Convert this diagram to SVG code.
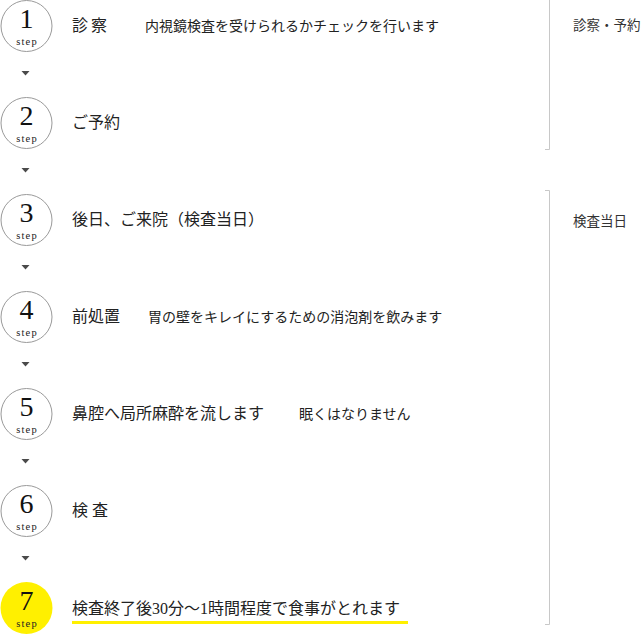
<svg xmlns="http://www.w3.org/2000/svg" width="641" height="636" viewBox="0 0 641 636">
<style>
.c{fill:#fff;stroke:#9a9a9a;stroke-width:1}
.cy{fill:#fff000;stroke:none}
.num{font-family:"Liberation Serif",serif;font-size:28px;fill:#111;text-anchor:middle}
.st{font-family:"Liberation Serif",serif;font-size:10.5px;fill:#222;text-anchor:middle;letter-spacing:1.2px}
.m{font-family:"Liberation Serif","Noto Sans CJK JP",serif;font-size:16px;fill:#222}
.s{font-family:"Liberation Serif","Noto Sans CJK JP",serif;font-size:14px;fill:#222}
.r{font-family:"Liberation Serif","Noto Sans CJK JP",serif;font-size:13.5px;fill:#333}
.tri{fill:#4a4a4a}
.br{fill:none;stroke:#c8c8c8;stroke-width:1}
</style>
<rect width="641" height="636" fill="#fff"/>
<g id="connectors">
<polygon class="tri" points="21.5,71 29.5,71 25.5,75.5"/>
<polygon class="tri" points="21.5,168 29.5,168 25.5,172.5"/>
<polygon class="tri" points="21.5,265 29.5,265 25.5,269.5"/>
<polygon class="tri" points="21.5,362 29.5,362 25.5,366.5"/>
<polygon class="tri" points="21.5,459 29.5,459 25.5,463.5"/>
<polygon class="tri" points="21.5,556 29.5,556 25.5,560.5"/>
</g>
<g id="step1">
<circle class="c" cx="26.5" cy="26" r="25.5"/>
<text class="num" x="26.5" y="28">1</text>
<text class="st" x="27" y="45">step</text>
<text class="m" x="72" y="31">診</text>
<text class="m" x="91" y="31">察</text>
<text class="s" x="145" y="31">内視鏡検査を受けられるかチェックを行います</text>
</g>
<g id="step2">
<circle class="c" cx="26.5" cy="123" r="25.5"/>
<text class="num" x="26.5" y="125">2</text>
<text class="st" x="27" y="142">step</text>
<text class="m" x="72" y="128">ご予約</text>
</g>
<g id="step3">
<circle class="c" cx="26.5" cy="220" r="25.5"/>
<text class="num" x="26.5" y="222">3</text>
<text class="st" x="27" y="239">step</text>
<text class="m" x="72" y="225">後日、ご来院（検査当日）</text>
</g>
<g id="step4">
<circle class="c" cx="26.5" cy="317" r="25.5"/>
<text class="num" x="26.5" y="319">4</text>
<text class="st" x="27" y="336">step</text>
<text class="m" x="72" y="322">前処置</text>
<text class="s" x="148" y="322">胃の壁をキレイにするための消泡剤を飲みます</text>
</g>
<g id="step5">
<circle class="c" cx="26.5" cy="414" r="25.5"/>
<text class="num" x="26.5" y="416">5</text>
<text class="st" x="27" y="433">step</text>
<text class="m" x="72" y="419">鼻腔へ局所麻酔を流します</text>
<text class="s" x="299" y="419">眠くはなりません</text>
</g>
<g id="step6">
<circle class="c" cx="26.5" cy="511" r="25.5"/>
<text class="num" x="26.5" y="513">6</text>
<text class="st" x="27" y="530">step</text>
<text class="m" x="72" y="516">検</text>
<text class="m" x="92" y="516">査</text>
</g>
<g id="step7">
<circle class="cy" cx="26.5" cy="608" r="26"/>
<text class="num" x="26.5" y="610">7</text>
<text class="st" x="27" y="627">step</text>
<text class="m" x="72" y="614">検査終了後30分〜1時間程度で食事がとれます</text>
<rect x="72" y="621" width="336" height="3" fill="#fff000"/>
</g>
<g id="phase1">
<polyline class="br" points="549.5,0 549.5,149.5 545,149.5"/>
<text class="r" x="573" y="30">診察・予約</text>
</g>
<g id="phase2">
<polyline class="br" points="545,190.5 549.5,190.5 549.5,624.5 545,624.5"/>
<text class="r" x="573" y="226">検査当日</text>
</g>
</svg>
